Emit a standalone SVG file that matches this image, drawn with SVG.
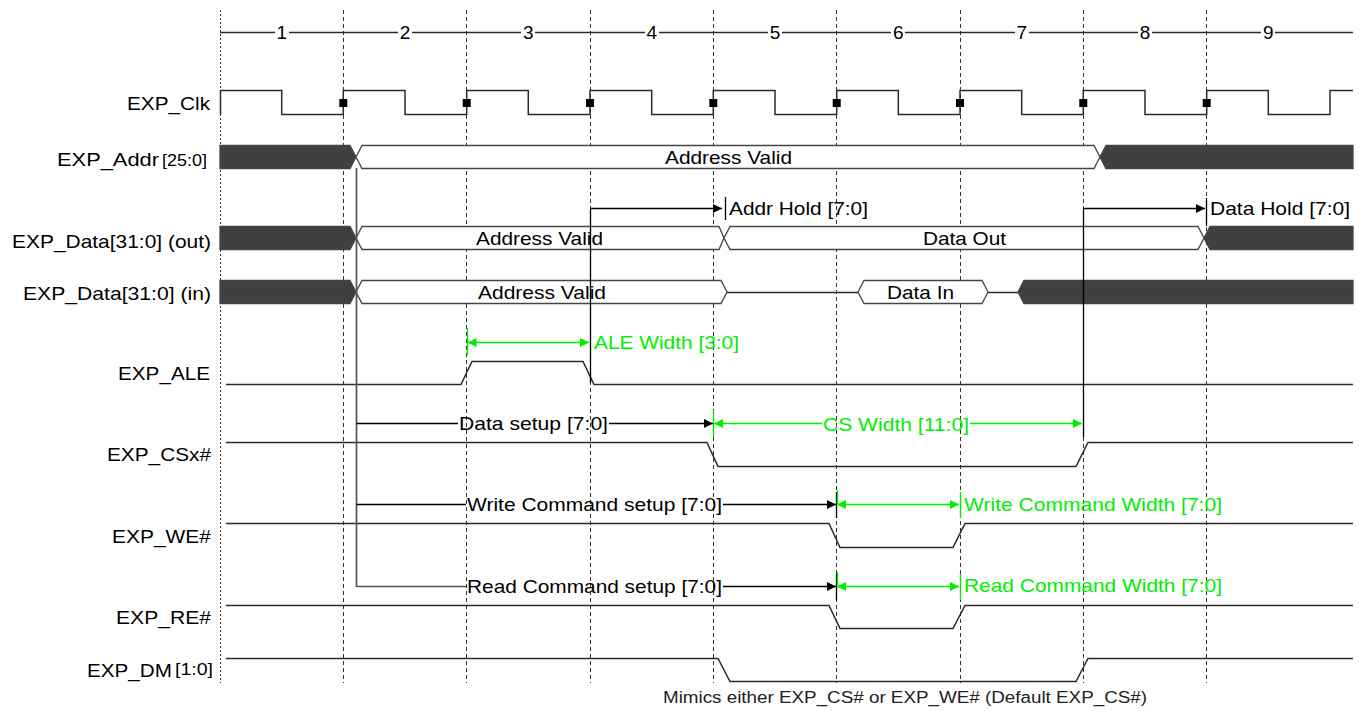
<svg xmlns="http://www.w3.org/2000/svg" width="1359" height="711" viewBox="0 0 1359 711">
<style>
text{font-family:"Liberation Sans",Arial,sans-serif;font-size:19px;fill:#000}
.lbl{font-size:19px}
.sm{font-size:16px}
.g{fill:#00ee00}
.note{font-size:16px;fill:#222}
.grid{stroke:#333;stroke-width:1;stroke-dasharray:4,3;fill:none}
.sig{stroke:#2a2a2a;stroke-width:1.5;fill:none}
.bus{stroke:#444;stroke-width:1.3}
.dark{fill:#404040}
.wht{fill:#fff}
.blk{stroke:#000;stroke-width:1.3;fill:none}
.ref{stroke:#555;stroke-width:1.7;fill:none}
.grn{stroke:#00ee00;stroke-width:1.4;fill:none}
</style>
<defs>
<marker id="ab" viewBox="0 0 10 10" refX="10" refY="5" markerWidth="10" markerHeight="9" markerUnits="userSpaceOnUse" orient="auto"><path d="M0,0 L10,5 L0,10 Z" fill="#000"/></marker>
<marker id="ag" viewBox="0 0 10 10" refX="10" refY="5" markerWidth="10" markerHeight="9" markerUnits="userSpaceOnUse" orient="auto-start-reverse"><path d="M0,0 L10,5 L0,10 Z" fill="#00ee00"/></marker>
</defs>
<rect width="1359" height="711" fill="#fff"/>

<g id="grid">
<path class="grid" d="M220.5,10 V683" style="stroke-dasharray:2,2"/>
<path class="grid" d="M343.5,10 V683 M466.5,10 V683 M590.5,10 V683 M713.5,10 V683 M836.5,10 V683 M960.5,10 V683 M1083.5,10 V683 M1206.5,10 V683"/>
</g>

<g id="ruler">
<path class="sig" style="stroke-width:1.3" d="M220,32.5 H275 M289,32.5 H398 M412,32.5 H521 M535,32.5 H645 M659,32.5 H768 M782,32.5 H891 M905,32.5 H1015 M1029,32.5 H1138 M1152,32.5 H1261 M1275,32.5 H1353"/>
<g text-anchor="middle">
<text x="281.7" y="39">1</text>
<text x="405" y="39">2</text>
<text x="528.3" y="39">3</text>
<text x="651.7" y="39">4</text>
<text x="775" y="39">5</text>
<text x="898.3" y="39">6</text>
<text x="1021.7" y="39">7</text>
<text x="1145" y="39">8</text>
<text x="1268.3" y="39">9</text>
</g>
</g>

<g id="exp_clk">
<text class="lbl" x="127" y="110" textLength="83" lengthAdjust="spacingAndGlyphs">EXP_Clk</text>
<path class="sig" d="M220.5,114.5 V90.5 H281.7 V114.5 H343.3 V90.5 H405 V114.5 H466.7 V90.5 H528.3 V114.5 H590 V90.5 H651.7 V114.5 H713.3 V90.5 H775 V114.5 H836.7 V90.5 H898.3 V114.5 H960 V90.5 H1021.7 V114.5 H1083.3 V90.5 H1145 V114.5 H1206.7 V90.5 H1268.3 V114.5 H1330 V90.5 H1353"/>
<g fill="#000">
<rect x="339.3" y="99" width="8" height="8"/>
<rect x="462.7" y="99" width="8" height="8"/>
<rect x="586" y="99" width="8" height="8"/>
<rect x="709.3" y="99" width="8" height="8"/>
<rect x="832.7" y="99" width="8" height="8"/>
<rect x="956" y="99" width="8" height="8"/>
<rect x="1079.3" y="99" width="8" height="8"/>
<rect x="1202.7" y="99" width="8" height="8"/>
</g>
</g>

<g id="exp_addr">
<text class="lbl" x="57" y="166" textLength="102" lengthAdjust="spacingAndGlyphs">EXP_Addr</text>
<text class="sm" x="162" y="166" textLength="45" lengthAdjust="spacingAndGlyphs">[25:0]</text>
<path class="bus dark" d="M220,145.5 H350 L356,157 L350,168.5 H220 Z"/>
<path class="bus wht" d="M356,157 L362,145.5 H1094 L1100,157 L1094,168.5 H362 Z"/>
<path class="bus dark" d="M1100,157 L1106,145.5 H1353 V168.5 H1106 Z"/>
<text x="665" y="164" textLength="127" lengthAdjust="spacingAndGlyphs">Address Valid</text>
</g>

<g id="exp_data_out">
<text class="lbl" x="12" y="248" textLength="199" lengthAdjust="spacingAndGlyphs">EXP_Data[31:0] (out)</text>
<path class="bus dark" d="M220,226.5 H350 L356,238 L350,249.5 H220 Z"/>
<path class="bus wht" d="M356,238 L362,226.5 H719 L724,238 L719,249.5 H362 Z"/>
<path class="bus wht" d="M724,238 L730,226.5 H1198 L1204,238 L1198,249.5 H730 Z"/>
<path class="bus dark" d="M1204,238 L1210,226.5 H1353 V249.5 H1210 Z"/>
<text x="476" y="245" textLength="127" lengthAdjust="spacingAndGlyphs">Address Valid</text>
<text x="923" y="245" textLength="83" lengthAdjust="spacingAndGlyphs">Data Out</text>
</g>

<g id="exp_data_in">
<text class="lbl" x="23" y="300" textLength="188" lengthAdjust="spacingAndGlyphs">EXP_Data[31:0] (in)</text>
<path class="bus dark" d="M220,280.5 H350 L356,292 L350,303.5 H220 Z"/>
<path class="bus wht" d="M356,292 L362,280.5 H721 L727,292 L721,303.5 H362 Z"/>
<path class="sig" d="M727,292.5 H858 M988,292.5 H1018"/>
<path class="bus wht" d="M858,292 L864,280.5 H982 L988,292 L982,303.5 H864 Z"/>
<path class="bus dark" d="M1018,292 L1024,280.5 H1353 V303.5 H1024 Z"/>
<text x="478" y="299" textLength="128" lengthAdjust="spacingAndGlyphs">Address Valid</text>
<text x="887" y="299" textLength="67" lengthAdjust="spacingAndGlyphs">Data In</text>
</g>

<g id="exp_ale">
<text class="lbl" x="118" y="380" textLength="92" lengthAdjust="spacingAndGlyphs">EXP_ALE</text>
<path class="sig" d="M226,384.5 H461 L472,361.5 H583 L594,384.5 H1353"/>
</g>

<g id="exp_csx">
<text class="lbl" x="107" y="461" textLength="104" lengthAdjust="spacingAndGlyphs">EXP_CSx#</text>
<path class="sig" d="M226,442.5 H707 L718,466.5 H1076 L1088,442.5 H1353"/>
</g>

<g id="exp_we">
<text class="lbl" x="112" y="543" textLength="99" lengthAdjust="spacingAndGlyphs">EXP_WE#</text>
<path class="sig" d="M226,523.5 H829 L840,547.5 H953 L965,523.5 H1353"/>
</g>

<g id="exp_re">
<text class="lbl" x="116" y="624" textLength="95" lengthAdjust="spacingAndGlyphs">EXP_RE#</text>
<path class="sig" d="M226,605.5 H829 L840,628.5 H953 L965,605.5 H1353"/>
</g>

<g id="exp_dm">
<text class="lbl" x="87" y="677" textLength="85" lengthAdjust="spacingAndGlyphs">EXP_DM</text>
<text class="sm" x="175" y="675" textLength="38" lengthAdjust="spacingAndGlyphs">[1:0]</text>
<path class="sig" d="M226,658.5 H718 L730,681.5 H1076 L1088,658.5 H1353"/>
<text class="note" x="663" y="703" textLength="484" lengthAdjust="spacingAndGlyphs">Mimics either EXP_CS# or EXP_WE# (Default EXP_CS#)</text>
</g>

<g id="connectors">
<path class="ref" d="M356.5,168 V586.5 H466"/>
<path class="blk" d="M356.5,423.5 H458 M609,423.5 H713" marker-end="url(#ab)"/>
<path class="blk" d="M356.5,504.5 H466 M723,504.5 H836" marker-end="url(#ab)"/>
<path class="blk" d="M723,586.5 H836" marker-end="url(#ab)"/>
<path class="blk" d="M590.5,383 V208.5 H722" marker-end="url(#ab)"/>
<path class="blk" d="M725.5,197 V220"/>
<path class="blk" d="M1083.5,437 V208.5 H1205" marker-end="url(#ab)"/>
<path class="blk" d="M1206.5,198 V226"/>
<path class="blk" d="M836.5,492 V518 M836.5,574 V600"/>
<path class="grn" d="M467.5,328 V355"/>
<path class="grn" d="M467.5,342.5 H589" marker-start="url(#ag)" marker-end="url(#ag)"/>
<path class="grn" d="M713.5,410 V437"/>
<path class="grn" d="M714,423.5 H822 M970,423.5 H1082" marker-start="url(#ag)" marker-end="url(#ag)"/>
<path class="grn" d="M837,504.5 H959" marker-start="url(#ag)" marker-end="url(#ag)"/>
<path class="grn" d="M960.5,492 V518 M837.5,490 V504"/>
<path class="grn" d="M837,586.5 H959" marker-start="url(#ag)" marker-end="url(#ag)"/>
<path class="grn" d="M960.5,574 V600 M837.5,572 V586"/>
<text x="459" y="430" textLength="149" lengthAdjust="spacingAndGlyphs">Data setup [7:0]</text>
<text x="467" y="511" textLength="255" lengthAdjust="spacingAndGlyphs">Write Command setup [7:0]</text>
<text x="467" y="593" textLength="255" lengthAdjust="spacingAndGlyphs">Read Command setup [7:0]</text>
<text x="729" y="215" textLength="139" lengthAdjust="spacingAndGlyphs">Addr Hold [7:0]</text>
<text x="1210" y="215" textLength="140" lengthAdjust="spacingAndGlyphs">Data Hold [7:0]</text>
<text class="g" x="594" y="349" textLength="145" lengthAdjust="spacingAndGlyphs">ALE Width [3:0]</text>
<text class="g" x="823" y="431" textLength="146" lengthAdjust="spacingAndGlyphs">CS Width [11:0]</text>
<text class="g" x="964" y="511" textLength="258" lengthAdjust="spacingAndGlyphs">Write Command Width [7:0]</text>
<text class="g" x="964" y="592" textLength="258" lengthAdjust="spacingAndGlyphs">Read Command Width [7:0]</text>
</g>
</svg>
